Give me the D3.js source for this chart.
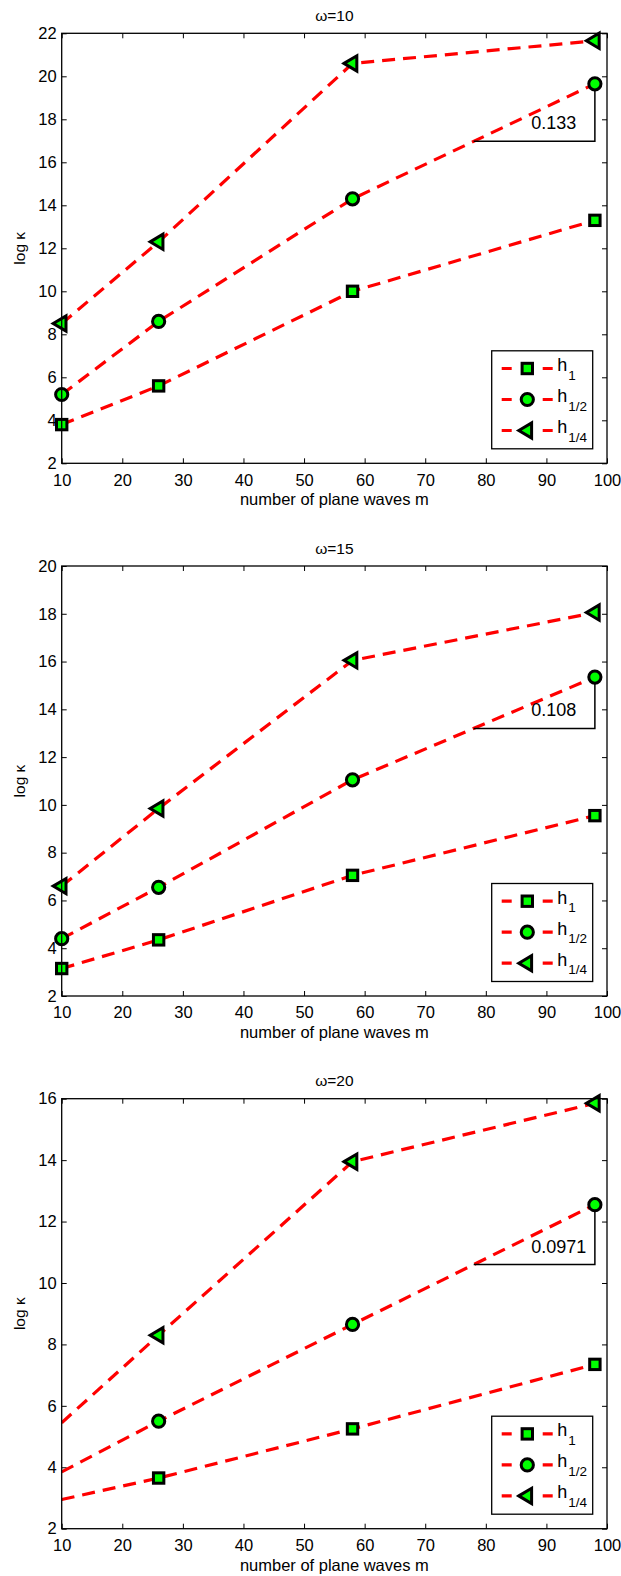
<!DOCTYPE html>
<html>
<head>
<meta charset="utf-8">
<script src="https://cdn.jsdelivr.net/npm/d3@7"></script>
<style>
  body { margin: 0; background: #fff; }
  text { font-family: "Liberation Sans", Arial, sans-serif; fill: #000; }
</style>
</head>
<body>
<svg id="chart" width="621" height="1576"></svg>
<script>
// data
const mValues = [10, 26, 58, 98];
const titles = ["ω=10", "ω=15", "ω=20"];
const yMaxes = [22, 20, 16];
const h1 = [
  [3.8, 5.6, 10.0, 13.3],
  [3.15, 4.35, 7.05, 9.55],
  [2.95, 3.65, 5.25, 7.35]
];
const hHalf = [
  [5.2, 8.6, 14.3, 19.65],
  [4.4, 6.55, 11.05, 15.35],
  [3.85, 5.5, 8.65, 12.55]
];
const hQuarter = [
  [8.5, 12.3, 20.6, 21.65],
  [6.6, 9.85, 16.05, 18.05],
  [5.45, 8.3, 13.95, 15.85]
];
// the omega=20 runs have no marker on the first point
const firstMarker = [0, 0, 1];
const slopeLabels = ["0.133", "0.108", "0.0971"];
const slopeFrom = 78;
const xTicks = [10, 20, 30, 40, 50, 60, 70, 80, 90, 100];
const seriesNames = [["h", "1"], ["h", "1/2"], ["h", "1/4"]];
const markerTypes = ["square", "circle", "triangle"];

const svg = d3.select("#chart");
const left = 61.7, right = 607, plotH = 430;
const tops = [33.3, 566, 1098.7];

function drawMarker(g, type, x, y) {
    let m;
    if (type === "square") {
        m = g.append("rect").attr("x", x - 5.2).attr("y", y - 5.2)
            .attr("width", 10.4).attr("height", 10.4);
    } else if (type === "circle") {
        m = g.append("circle").attr("cx", x).attr("cy", y).attr("r", 6.1);
    } else {
        m = g.append("polygon")
            .attr("points", [[x - 8.5, y], [x + 4.3, y - 7.6], [x + 4.3, y + 7.6]].join(" "));
    }
    m.attr("fill", "#00ff00").attr("stroke", "#000")
        .attr("stroke-width", 3).attr("stroke-linejoin", "miter");
}

tops.forEach((top, p) => {
    const bottom = top + plotH;
    const x = d3.scaleLinear().domain([10, 100]).range([left, right]);
    const y = d3.scaleLinear().domain([2, yMaxes[p]]).range([bottom, top]);
    const yTicks = d3.range(2, yMaxes[p] + 1, 2);
    const g = svg.append("g");

    g.append("clipPath").attr("id", "clip" + p)
        .append("rect").attr("x", left).attr("y", top)
        .attr("width", right - left).attr("height", plotH);

    // axes, ticks pointing inward
    g.append("g").attr("transform", "translate(0," + bottom + ")")
        .call(d3.axisBottom(x).tickValues(xTicks).tickSizeInner(-5).tickSizeOuter(0).tickPadding(10.5));
    g.append("g").attr("transform", "translate(0," + top + ")")
        .call(d3.axisTop(x).tickValues(xTicks).tickSizeInner(-5).tickSizeOuter(0).tickFormat(""));
    g.append("g").attr("transform", "translate(" + left + ",0)")
        .call(d3.axisLeft(y).tickValues(yTicks).tickSizeInner(-5).tickSizeOuter(0).tickPadding(5));
    g.append("g").attr("transform", "translate(" + right + ",0)")
        .call(d3.axisRight(y).tickValues(yTicks).tickSizeInner(-5).tickSizeOuter(0).tickFormat(""));
    g.selectAll(".domain").remove();
    g.selectAll(".tick line").attr("stroke", "#000").attr("stroke-width", 1);
    g.selectAll(".tick text").attr("font-size", 16.5).attr("fill", "#000")
        .attr("font-family", "Liberation Sans, Arial, sans-serif");

    // data lines
    const line = d3.line().x((d, i) => x(mValues[i])).y(d => y(d));
    const all = [h1[p], hHalf[p], hQuarter[p]];
    all.forEach(vals => {
        g.append("path").attr("d", line(vals))
            .attr("clip-path", "url(#clip" + p + ")")
            .attr("fill", "none").attr("stroke", "#ff0000")
            .attr("stroke-width", 3.2).attr("stroke-dasharray", "13,8");
    });

    // slope triangle on the h_1/2 curve
    const yEnd = hHalf[p][3];
    const yStart = hHalf[p][2] + (hHalf[p][3] - hHalf[p][2]) * (slopeFrom - mValues[2]) / (mValues[3] - mValues[2]);
    g.append("path")
        .attr("d", d3.line()([[x(slopeFrom), y(yStart)], [x(mValues[3]), y(yStart)], [x(mValues[3]), y(yEnd)]]))
        .attr("fill", "none").attr("stroke", "#000").attr("stroke-width", 1.5);
    g.append("text").attr("x", x(87.5)).attr("y", y(yStart) - 12)
        .attr("font-size", 18).text(slopeLabels[p]);

    // markers
    all.forEach((vals, s) => {
        vals.forEach((v, i) => {
            if (i >= firstMarker[p]) drawMarker(g, markerTypes[s], x(mValues[i]), y(v));
        });
    });

    // frame
    g.append("rect").attr("x", left).attr("y", top)
        .attr("width", right - left).attr("height", plotH)
        .attr("fill", "none").attr("stroke", "#000").attr("stroke-width", 1.3);

    // title and labels
    g.append("text").attr("x", (left + right) / 2).attr("y", top - 12.5)
        .attr("text-anchor", "middle").attr("font-size", 15.5).text(titles[p]);
    g.append("text").attr("x", (left + right) / 2).attr("y", bottom + 42)
        .attr("text-anchor", "middle").attr("font-size", 16.5).text("number of plane waves m");
    g.append("text")
        .attr("transform", "translate(24.5," + (top + plotH / 2) + ") rotate(-90)")
        .attr("text-anchor", "middle").attr("font-size", 15.5).text("log κ");

    // legend
    const lw = 101, lh = 98;
    const lx = right - 14.3 - lw, ly = bottom - 14.5 - lh;
    const lg = g.append("g");
    lg.append("rect").attr("x", lx).attr("y", ly).attr("width", lw).attr("height", lh)
        .attr("fill", "#fff").attr("stroke", "#000").attr("stroke-width", 1.3);
    seriesNames.forEach((nm, s) => {
        const ry = ly + 17.7 + s * 31;
        lg.append("line").attr("x1", lx + 10).attr("x2", lx + 61).attr("y1", ry).attr("y2", ry)
            .attr("stroke", "#ff0000").attr("stroke-width", 3.2).attr("stroke-dasharray", "10,31");
        drawMarker(lg, markerTypes[s], lx + 35.6, ry);
        lg.append("text").attr("x", lx + 65.5).attr("y", ry + 2.5)
            .attr("font-size", 18).text(nm[0]);
        lg.append("text").attr("x", lx + 76.5).attr("y", ry + 11)
            .attr("font-size", 13.5).text(nm[1]);
    });
});
</script>
</body>
</html>
